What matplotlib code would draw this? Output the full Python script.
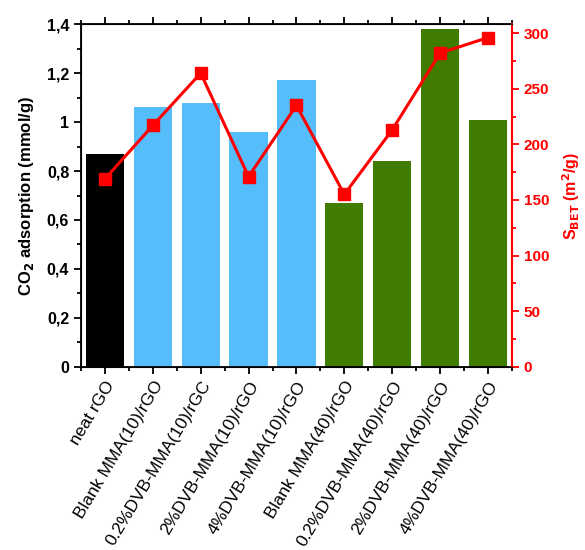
import matplotlib.pyplot as plt
from matplotlib.ticker import FixedLocator, MultipleLocator, FuncFormatter

plt.rcParams['font.family'] = ['Liberation Sans', 'DejaVu Sans']

samples = ['neat rGO', 'Blank MMA(10)/rGO', '0.2%DVB-MMA(10)/rGC', '2%DVB-MMA(10)/rGO',
           '4%DVB-MMA(10)/rGO', 'Blank MMA(40)/rGO', '0.2%DVB-MMA(40)/rGO',
           '2%DVB-MMA(40)/rGO', '4%DVB-MMA(40)/rGO']
co2_uptake = [0.87, 1.06, 1.08, 0.96, 1.17, 0.67, 0.84, 1.38, 1.01]
s_bet = [169, 217, 264, 171, 235, 155, 213, 282, 296]
bar_colors = ['#000000'] + ['#55BEFA'] * 4 + ['#3F7C00'] * 4

fig = plt.figure(figsize=(5.85, 5.5), dpi=100)
ax = fig.add_axes([0.1385, 0.333, 0.7365, 0.623])
x = list(range(len(samples)))
ax.bar(x, co2_uptake, width=0.8, color=bar_colors)
ax.set_xlim(-0.5, 8.5)
ax.set_ylim(0, 1.4)

def comma_fmt(v, pos):
    s = ('%.1f' % v).replace('.', ',')
    if s.endswith(',0'):
        s = s[:-2]
    return s

ax.yaxis.set_major_locator(MultipleLocator(0.2))
ax.yaxis.set_minor_locator(MultipleLocator(0.1))
ax.yaxis.set_major_formatter(FuncFormatter(comma_fmt))
ax.set_xticks(x)
ax.set_xticklabels(samples, rotation=59, ha='right', rotation_mode='anchor', fontsize=12.5)
ax.xaxis.set_minor_locator(FixedLocator([i + 0.5 for i in range(-1, 9)]))
ax.tick_params(axis='x', which='both', top=True, direction='out', width=1.3)
ax.tick_params(axis='x', which='major', length=5)
ax.tick_params(axis='x', which='minor', length=3)
ax.tick_params(axis='y', which='major', length=5, width=1.3, labelsize=11.5)
ax.tick_params(axis='y', which='minor', length=3, width=1.3)
for lbl in ax.get_yticklabels():
    lbl.set_fontweight('bold')
ax.set_ylabel(r'CO$_\mathbf{2}$ adsorption (mmol/g)', fontsize=12, fontweight='bold', labelpad=8)
for sp in ax.spines.values():
    sp.set_linewidth(1.3)

ax2 = ax.twinx()
ax2.plot(x, s_bet, color='#FF0000', lw=2.2, marker='s', markersize=8)
ax2.set_ylim(0, 308)
ax2.yaxis.set_major_locator(MultipleLocator(50))
ax2.yaxis.set_minor_locator(MultipleLocator(25))
ax2.tick_params(axis='y', which='both', colors='#FF0000', width=1.3, labelsize=11)
ax2.tick_params(axis='y', which='major', length=5)
ax2.tick_params(axis='y', which='minor', length=3)
for lbl in ax2.get_yticklabels():
    lbl.set_fontweight('bold')
ax2.spines['right'].set_color('#FF0000')
ax2.spines['right'].set_linewidth(1.5)
ax2.set_ylabel(r'S$_\mathbf{BET}$ (m$^\mathbf{2}$/g)', fontsize=11.5, fontweight='bold',
               color='#FF0000', labelpad=8)

fig.savefig('out.png', dpi=100)
